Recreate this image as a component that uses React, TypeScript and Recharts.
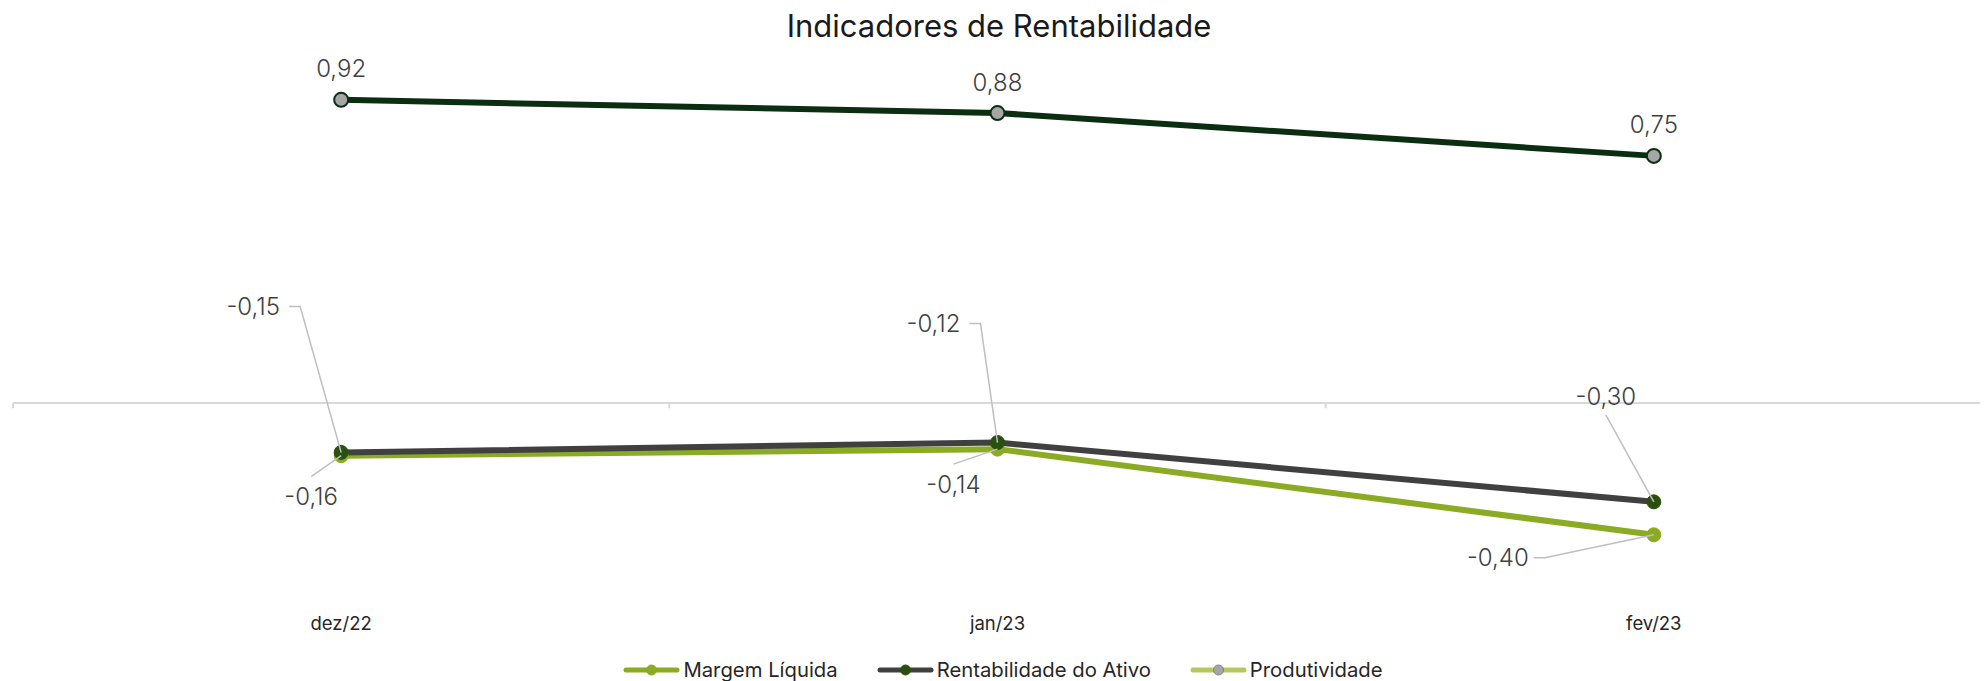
import React from 'react';
import { LineChart, Line, XAxis, YAxis, ReferenceLine, LabelList } from 'recharts';

const categories = ['dez/22', 'jan/23', 'fev/23'];
const margemLiquida = [-0.16, -0.14, -0.4];
const rentabilidadeAtivo = [-0.15, -0.12, -0.3];
const produtividade = [0.92, 0.88, 0.75];

// label placement (px, relative to the point), like the hand-moved labels of the original
const rentLabels = [
  { dx: -88, dy: -146, lead: 'side' },
  { dx: -64, dy: -119, lead: 'side' },
  { dx: -48, dy: -105, lead: 'below' },
];
const margemLabels = [
  { dx: -30, dy: 41, lead: 'above' },
  { dx: -44, dy: 35, lead: 'above' },
  { dx: -156, dy: 23, lead: 'side' },
];

const FONT = 'Inter, sans-serif';
const W = 1988;
const H = 681;

const C_MARGEM = '#8aab23';
const C_RENT = '#404040';
const C_RENT_DOT = '#2a5010';
const C_PROD = '#0b2e10';
const C_PROD_DOT = '#a6a6a6';
const C_PROD_LEGEND = '#b5c95a';
const C_LEADER = '#bfbfbf';

const data = categories.map((c, i) => ({
  pos: i + 0.5,
  cat: c,
  margem: margemLiquida[i],
  rent: rentabilidadeAtivo[i],
  prod: produtividade[i],
}));

const fmt = (v: number) => v.toFixed(2).replace('.', ',');

function makeLeaderLabel(offsets: { dx: number; dy: number; lead: string }[]) {
  return (props: any) => {
    const { x, y, value, index } = props;
    const o = offsets[index];
    if (!o) return null;
    const lx = x + o.dx;
    const ly = y + o.dy;
    const text = fmt(value);
    const half = 28;
    let path = '';
    if (o.lead === 'side') {
      const sx = lx + half + 8;
      path = `M${sx},${ly} L${sx + 11},${ly} L${x},${y}`;
    } else if (o.lead === 'below') {
      path = `M${lx},${ly + 18} L${x},${y}`;
    } else {
      path = `M${lx},${ly - 20} L${x},${y}`;
    }
    return (
      <g>
        <path d={path} stroke={C_LEADER} strokeWidth={1.5} fill="none" />
        <text
          x={lx}
          y={ly}
          textAnchor="middle"
          dominantBaseline="central"
          fontFamily={FONT}
          fontSize={24}
          fontWeight={300}
          fill="#404040"
        >
          {text}
        </text>
      </g>
    );
  };
}

const prodLabel = (props: any) => {
  const { x, y, value } = props;
  return (
    <text
      x={x}
      y={y - 31}
      textAnchor="middle"
      dominantBaseline="central"
      fontFamily={FONT}
      fontSize={24}
      fontWeight={300}
      fill="#404040"
    >
      {fmt(value)}
    </text>
  );
};

const legendItems = [
  { name: 'Margem Líquida', line: C_MARGEM, dot: C_MARGEM, dotStroke: C_MARGEM },
  { name: 'Rentabilidade do Ativo', line: C_RENT, dot: C_RENT_DOT, dotStroke: C_RENT_DOT },
  { name: 'Produtividade', line: C_PROD_LEGEND, dot: C_PROD_DOT, dotStroke: '#7f7f7f' },
];

export default function App() {
  const boundaries = categories.map((_, i) => i).concat([categories.length]);

  return (
    <div style={{ position: 'relative', width: W, height: H, margin: '-8px 0 0 -8px', fontFamily: FONT }}>
      <div
        style={{
          position: 'absolute',
          top: 7,
          left: 5,
          width: W,
          textAlign: 'center',
          fontSize: 31,
          color: '#1a1a1a',
        }}
      >
        Indicadores de Rentabilidade
      </div>
      <LineChart width={W} height={H} data={data} margin={{ top: 73.5, right: 6, bottom: 50.3, left: 13 }}>
        <XAxis
          dataKey="pos"
          type="number"
          domain={[0, categories.length]}
          ticks={data.map((d) => d.pos)}
          tickFormatter={(v: number) => categories[Math.floor(v)]}
          axisLine={false}
          tickLine={false}
          tickMargin={10}
          height={30}
          tick={{ fontSize: 18.5, fill: '#262626', fontFamily: FONT }}
        />
        <YAxis hide domain={[-0.6, 1.0]} />
        <ReferenceLine y={0} stroke="#d9d9d9" strokeWidth={2} />
        {boundaries.map((b) => (
          <ReferenceLine
            key={b}
            segment={[
              { x: b, y: 0 },
              { x: b, y: -0.016 },
            ]}
            stroke="#d9d9d9"
            strokeWidth={2}
          />
        ))}
        <Line
          dataKey="margem"
          stroke={C_MARGEM}
          strokeWidth={6}
          dot={{ r: 7, fill: C_MARGEM, stroke: C_MARGEM, strokeWidth: 1 }}
          isAnimationActive={false}
        >
          <LabelList dataKey="margem" content={makeLeaderLabel(margemLabels)} />
        </Line>
        <Line
          dataKey="rent"
          stroke={C_RENT}
          strokeWidth={6}
          dot={{ r: 7, fill: C_RENT_DOT, stroke: C_RENT_DOT, strokeWidth: 1 }}
          isAnimationActive={false}
        >
          <LabelList dataKey="rent" content={makeLeaderLabel(rentLabels)} />
        </Line>
        <Line
          dataKey="prod"
          stroke={C_PROD}
          strokeWidth={6}
          dot={{ r: 7, fill: C_PROD_DOT, stroke: C_PROD, strokeWidth: 2 }}
          isAnimationActive={false}
        >
          <LabelList dataKey="prod" content={prodLabel} />
        </Line>
      </LineChart>
      <div
        style={{
          position: 'absolute',
          top: 657,
          left: 9,
          width: W,
          display: 'flex',
          justifyContent: 'center',
          gap: 39,
          fontSize: 20.3,
          color: '#262626',
        }}
      >
        {legendItems.map((it) => (
          <div key={it.name} style={{ display: 'flex', alignItems: 'center' }}>
            <svg width={57} height={14} style={{ marginRight: 3 }}>
              <line x1={3} y1={7} x2={54} y2={7} stroke={it.line} strokeWidth={5} strokeLinecap="round" />
              <circle cx={28.5} cy={7} r={5} fill={it.dot} stroke={it.dotStroke} strokeWidth={1} />
            </svg>
            <span>{it.name}</span>
          </div>
        ))}
      </div>
    </div>
  );
}
